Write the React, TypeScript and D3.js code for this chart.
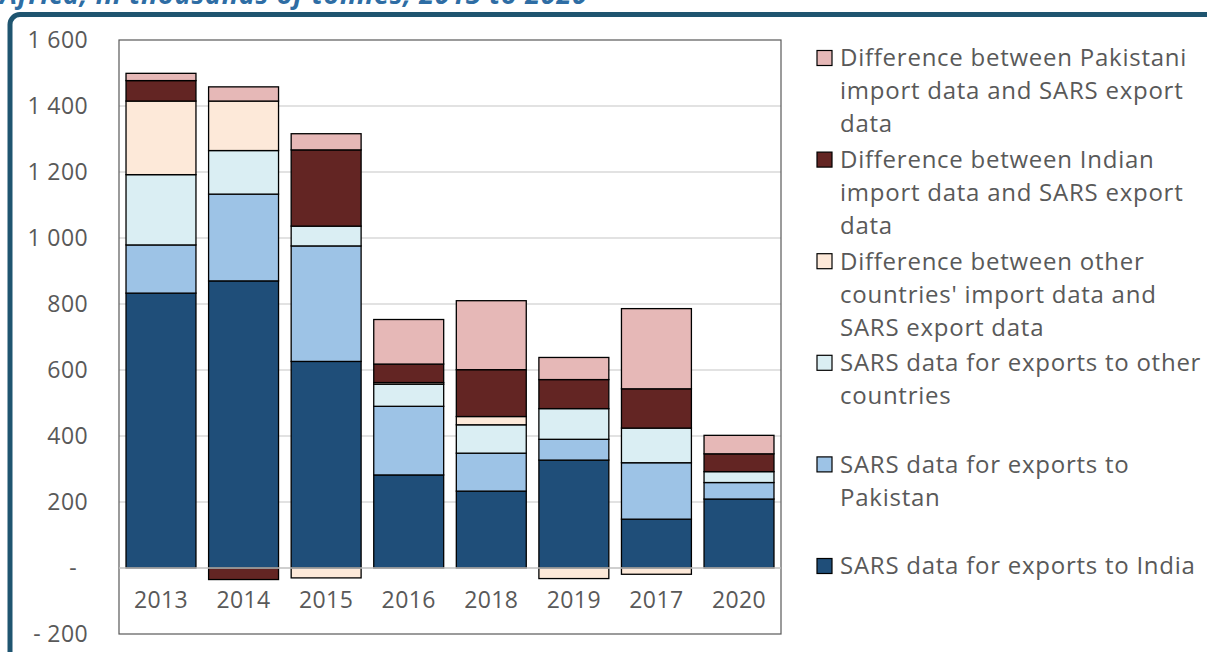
import React from "react";
import * as d3 from "d3";

const categories = ["2013", "2014", "2015", "2016", "2018", "2019", "2017", "2020"];
const indiaExports = [833, 870, 626, 282, 233, 327, 148, 209];
const pakistanExports = [146, 263, 350, 208, 115, 63, 171, 50];
const otherExports = [213, 132, 60, 67, 86, 93, 105, 33];
const diffOther = [223, 150, -30, 5, 25, -32, -19, 0];
const diffIndia = [62, -35, 231, 56, 142, 88, 119, 54];
const diffPakistan = [22, 43, 49, 135, 209, 67, 243, 56];

const yTicks = [-200, 0, 200, 400, 600, 800, 1000, 1200, 1400, 1600];

const seriesKeys = ["india", "pakistan", "other", "dOther", "dIndia", "dPak"];
const seriesColors: Record<string, string> = {
  india: "#1F4E79",
  pakistan: "#9DC3E6",
  other: "#DAEEF3",
  dOther: "#FDE9D9",
  dIndia: "#632523",
  dPak: "#E6B8B7",
};
const legendItems = [
  { key: "dPak", lines: ["Difference between Pakistani", "import data and SARS export", "data"] },
  { key: "dIndia", lines: ["Difference between Indian", "import data and SARS export", "data"] },
  { key: "dOther", lines: ["Difference between other", "countries' import data and", "SARS export data"] },
  { key: "other", lines: ["SARS data for exports to other", "countries"] },
  { key: "pakistan", lines: ["SARS data for exports to", "Pakistan"] },
  { key: "india", lines: ["SARS data for exports to India"] },
];

const W = 1207;
const H = 652;
const FONT = "'Open Sans', 'Noto Sans', sans-serif";
const TEXT = "#595959";

function fmt(v: number) {
  if (v === 0) return "-";
  const s = Math.abs(v).toString().replace(/\B(?=(\d{3})+(?!\d))/g, " ");
  return v < 0 ? "- " + s : s;
}

export default function App() {
  const table = categories.map((c, i) => ({
    cat: c,
    india: indiaExports[i],
    pakistan: pakistanExports[i],
    other: otherExports[i],
    dOther: diffOther[i],
    dIndia: diffIndia[i],
    dPak: diffPakistan[i],
  }));
  const stack = d3.stack<any>().keys(seriesKeys).offset(d3.stackOffsetDiverging);
  const layers = stack(table);

  const plot = { left: 119, right: 781, top: 40, bottom: 634 };
  const x = d3
    .scaleBand<string>()
    .domain(categories)
    .range([plot.left, plot.right])
    .paddingInner(0.153)
    .paddingOuter(0.085);
  const y = d3.scaleLinear().domain([-200, 1600]).range([plot.bottom, plot.top]);

  return (
    <svg
      width={W}
      height={H}
      style={{ position: "absolute", left: 0, top: 0, background: "#fff" }}
      fontFamily={FONT}
    >
      <text x={0} y={4} fontSize={27} letterSpacing={0.7} fontWeight="bold" fontStyle="italic" fill="#2E6DA4">
        Africa, in thousands of tonnes, 2013 to 2020
      </text>
      <rect x={10} y={14.5} width={1400} height={1000} rx={10} fill="none" stroke="#1F5570" strokeWidth={5} />

      {/* gridlines */}
      {yTicks
        .filter((t) => t !== 0 && t !== -200 && t !== 1600)
        .map((t) => (
          <line key={t} x1={plot.left} x2={plot.right} y1={y(t)} y2={y(t)} stroke="#D9D9D9" strokeWidth={1.3} />
        ))}
      <rect
        x={plot.left}
        y={plot.top}
        width={plot.right - plot.left}
        height={plot.bottom - plot.top}
        fill="none"
        stroke="#595959"
        strokeWidth={1.2}
      />

      {/* bars */}
      {layers.map((layer) => (
        <g key={layer.key} fill={seriesColors[layer.key]}>
          {layer.map((d, i) => {
            const y0 = y(d[0]);
            const y1 = y(d[1]);
            if (d[1] - d[0] === 0) return null;
            return (
              <rect
                key={i}
                x={x(categories[i])}
                width={x.bandwidth()}
                y={Math.min(y0, y1)}
                height={Math.abs(y0 - y1)}
                stroke="#000"
                strokeWidth={1.3}
              />
            );
          })}
        </g>
      ))}
      <line x1={plot.left} x2={plot.right} y1={y(0)} y2={y(0)} stroke="#BFBFBF" strokeWidth={1.3} />

      {/* y axis labels */}
      {yTicks.map((t) => (
        <text
          key={t}
          x={t === 0 ? 77 : 88}
          y={y(t)}
          dy="0.35em"
          textAnchor="end"
          fontSize={23}
          letterSpacing={0.4}
          fill={TEXT}
        >
          {fmt(t)}
        </text>
      ))}

      {/* x axis labels */}
      {categories.map((c) => (
        <text
          key={c}
          x={(x(c) as number) + x.bandwidth() / 2}
          y={600}
          dy="0.35em"
          textAnchor="middle"
          fontSize={23}
          letterSpacing={0.4}
          fill={TEXT}
        >
          {c}
        </text>
      ))}

      {/* legend */}
      {legendItems.map((item, i) => {
        const cy = 58 + i * 101.6;
        return (
          <g key={item.key}>
            <rect x={817} y={cy - 7.5} width={15} height={15} fill={seriesColors[item.key]} stroke="#000" strokeWidth={1.2} />
            {item.lines.map((ln, j) => (
              <text key={j} x={840} y={cy + j * 33} dy="0.35em" fontSize={24} letterSpacing={0.75} fill={TEXT}>
                {ln}
              </text>
            ))}
          </g>
        );
      })}
    </svg>
  );
}
